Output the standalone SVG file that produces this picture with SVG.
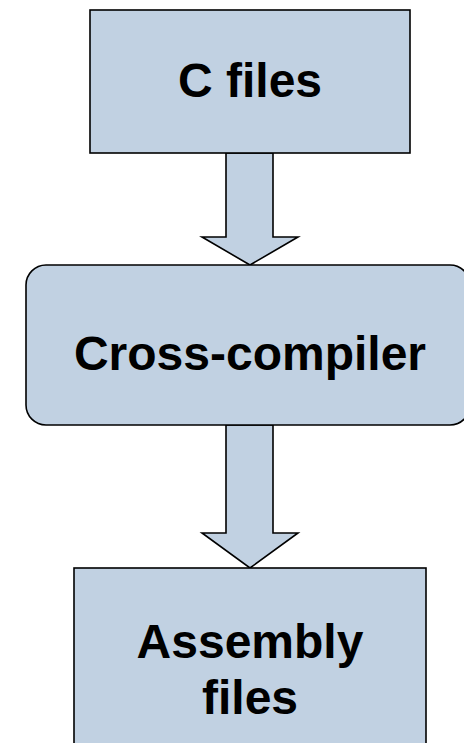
<svg xmlns="http://www.w3.org/2000/svg" width="464" height="743" viewBox="0 0 464 743">
  <style>
    .shape { fill: #c1d1e2; stroke: #000; stroke-width: 1.6; stroke-linejoin: miter; }
    .label { font-family: "Liberation Sans", Arial, sans-serif; font-weight: bold; font-size: 48px; fill: #000; text-anchor: middle; }
  </style>
  <rect width="464" height="743" fill="#fff"/>

  <g id="connectors">
    <path id="arrow-c-to-compiler" class="shape" d="M226,153 L273,153 L273,237 L298,237 L250,265 L202,237 L226,237 Z"/>
    <path id="arrow-compiler-to-asm" class="shape" d="M226,425 L273,425 L273,533 L298,533 L250,568 L202,533 L226,533 Z"/>
  </g>

  <g id="c-files">
    <rect class="shape" x="90" y="10" width="320" height="143"/>
    <text class="label" x="250" y="97">C files</text>
  </g>

  <g id="cross-compiler">
    <rect class="shape" x="26" y="265" width="444" height="160" rx="20" ry="20"/>
    <text class="label" x="250" y="370">Cross-compiler</text>
  </g>

  <g id="assembly-files">
    <rect class="shape" x="74" y="568" width="352" height="190"/>
    <text class="label" x="250" y="658">Assembly</text>
    <text class="label" x="250" y="714">files</text>
  </g>
</svg>
